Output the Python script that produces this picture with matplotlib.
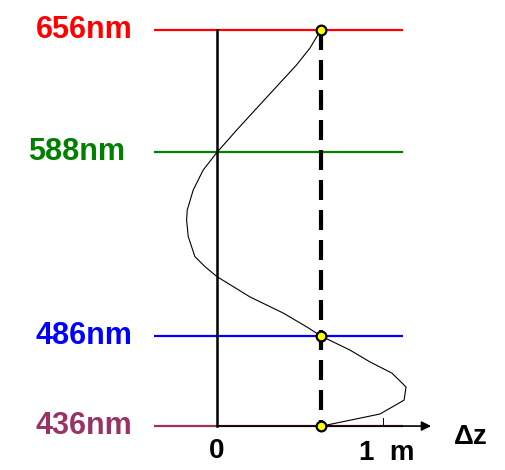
import matplotlib.pyplot as plt

plt.rcParams['font.family'] = ['Liberation Sans', 'DejaVu Sans']

# spectral lines (nm) and their colours
lines_nm = [656, 588, 486, 436]
line_labels = ['656nm', '588nm', '486nm', '436nm']
line_colors = ['#ff0000', '#008000', '#0000ff', '#993366']
label_right = [-0.51, -0.555, -0.51, -0.51]

# focal shift curve: wavelength (nm) vs longitudinal shift (m)
curve_nm = [656, 655.1, 645.9, 636.6, 624.6, 612.5, 600.4, 588,
            578.2, 567.1, 556, 550.4, 541.2, 530.1, 524.5, 519,
            507.7, 498.8, 491, 486, 478.2, 471.6, 465.4,
            457.7, 450.4, 442.7, 436.6, 436]
curve_dz = [0.627, 0.620, 0.560, 0.480, 0.360, 0.239, 0.119, 0,
            -0.083, -0.143, -0.179, -0.183, -0.173, -0.133, -0.072, 0,
            0.199, 0.398, 0.542, 0.627, 0.801, 0.922, 1.054,
            1.139, 1.127, 0.982, 0.663, 0.627]

# common focus position shared by 656, 486 and 436 nm
dz_ref = 0.627
ref_nm = [656, 486, 436]

fig = plt.figure(figsize=(5.06, 4.70), dpi=100)
ax = fig.add_axes([0, 0, 1, 1])
ax.set_xlim(-1.307, 1.741)
ax.set_ylim(411.6, 672.6)
ax.axis('off')

# dz axis with arrow
ax.annotate('', xy=(1.29, 436), xytext=(0, 436),
            arrowprops=dict(arrowstyle='-|>', color='black', lw=1.2,
                            mutation_scale=14, shrinkA=0, shrinkB=0))
ax.plot([1, 1], [436, 440.5], color='black', lw=0.7)

for nm, lab, col, xr in zip(lines_nm, line_labels, line_colors, label_right):
    ax.plot([-0.38, 1.12], [nm, nm], color=col, lw=1.6, solid_capstyle='butt')
    ax.text(xr, nm, lab, color=col, fontsize=22, fontweight='bold',
            ha='right', va='center')

ax.plot([0, 0], [656, 436], color='black', lw=1.8)
ax.plot([dz_ref, dz_ref], [656, 436], color='black', lw=3,
        linestyle=(0, (4.8, 2.4)))
ax.plot(curve_dz, curve_nm, color='black', lw=0.8)
ax.plot([dz_ref] * len(ref_nm), ref_nm, 'o', color='#ffff00', ms=7,
        mec='black', mew=1.6, zorder=5)

ax.text(0, 422, '0', fontsize=20, fontweight='bold', ha='center', va='center')
ax.text(1.02, 421, '1  m', fontsize=20, fontweight='bold', ha='center', va='center')
ax.text(1.53, 430, '\u0394z', fontsize=20, fontweight='bold', ha='center', va='center')

fig.savefig('out.png', dpi=100)
